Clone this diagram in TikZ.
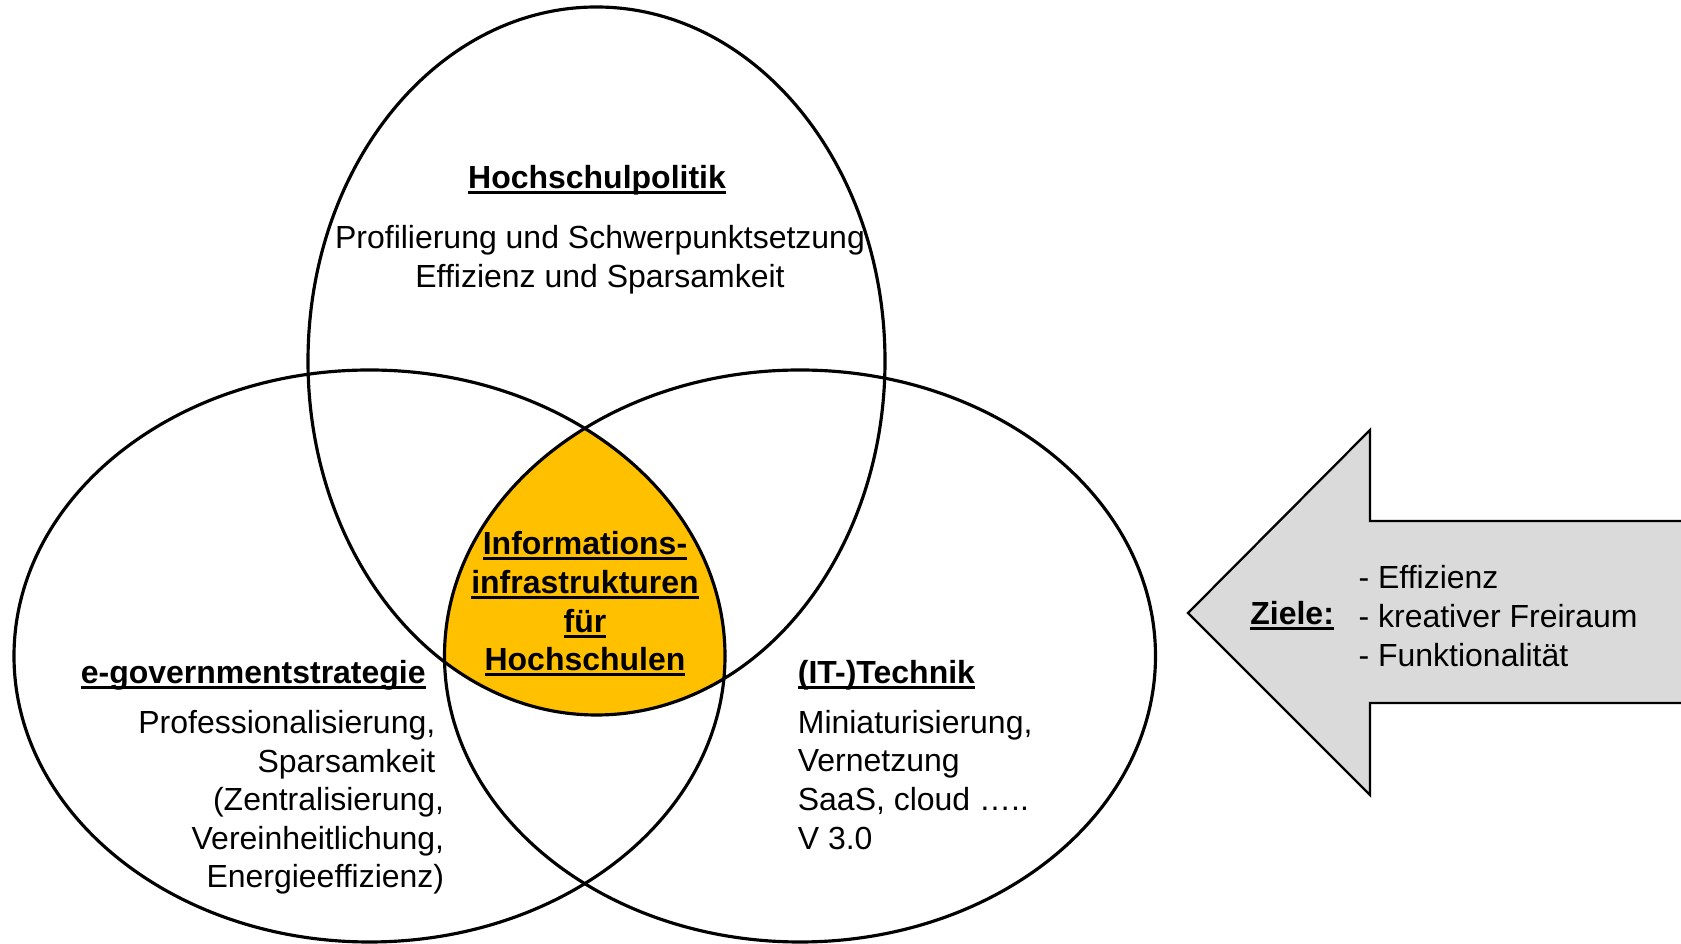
\documentclass[tikz,border=0pt]{standalone}
\usepackage{fontspec}
\setmainfont{Liberation Sans}
\usetikzlibrary{positioning}

\definecolor{venngelb}{HTML}{FFC000}
\definecolor{pfeilgrau}{HTML}{DADADA}

% unterstrichen, mit kraeftiger Linie
\newcommand{\undl}[1]{\setbox0\hbox{#1}\rlap{\rule[-0.18em]{\wd0}{0.1em}}\box0}

\begin{document}
\begin{tikzpicture}[
font=\fontsize{18.2}{22}\selectfont,
ring/.style={draw, line width=1.8pt},
pfeil/.style={draw, line width=1.3pt, line join=miter},
txt/.style={inner sep=0pt},
head/.style={inner sep=0pt, font=\fontsize{18.2}{22}\selectfont\bfseries}
]
\useasboundingbox (0,0) rectangle (33.62,18.88);

% --- Schnittmenge der drei Kreise ---
\begin{scope}
\clip (11.93,11.66) ellipse [x radius=5.77cm, y radius=7.08cm];
\clip (7.39,5.76) ellipse [x radius=7.11cm, y radius=5.72cm];
\fill[venngelb] (16.0,5.76) ellipse [x radius=7.11cm, y radius=5.72cm];
\end{scope}

% --- Kreise ---
\draw[ring] (11.93,11.66) ellipse [x radius=5.77cm, y radius=7.08cm];
\draw[ring] (7.39,5.76) ellipse [x radius=7.11cm, y radius=5.72cm];
\draw[ring] (16.0,5.76) ellipse [x radius=7.11cm, y radius=5.72cm];

% --- Pfeil ---
\fill[pfeilgrau] (33.9,8.46) -- (27.4,8.46) -- (27.4,10.28) -- (23.76,6.62)
  -- (27.4,2.98) -- (27.4,4.82) -- (33.9,4.82) -- cycle;
\draw[pfeil] (33.9,8.46) -- (27.4,8.46) -- (27.4,10.28) -- (23.76,6.62)
  -- (27.4,2.98) -- (27.4,4.82) -- (33.9,4.82);

% --- Hochschulpolitik ---
\node[head] (hptitel) at (11.94,15.28) {\undl{Hochschulpolitik}};
\node[txt, align=center, below=0.6cm of hptitel, xshift=0.06cm] (hptext)
  {Profilierung und Schwerpunktsetzung\\Effizienz und Sparsamkeit};

% --- e-governmentstrategie ---
\node[head, anchor=east] (egtitel) at (8.52,5.38) {\undl{e-governmentstrategie}};
\node[txt, align=right, anchor=north east] (egtext)
  at ([xshift=0.37cm, yshift=-0.39cm]egtitel.south east)
  {Professionalisierung,\hphantom{,}\\Sparsamkeit\hphantom{,}\\(Zentralisierung,\\Vereinheitlichung,\\Energieeffizienz)};

% --- (IT-)Technik ---
\node[head, anchor=west] (ittitel) at (15.95,5.38) {\undl{(IT-)Technik}};
\node[txt, align=left, below right=0.39cm and 0cm of ittitel.south west] (ittext)
  {Miniaturisierung,\\Vernetzung\\SaaS, cloud …..\\V 3.0};

% --- Mitte ---
\node[head, align=center] (mitte) at (11.70,6.80)
  {\undl{Informations-}\\\undl{infrastrukturen}\\\undl{für}\\\undl{Hochschulen}};

% --- Ziele ---
\node[head, anchor=west] (ziele) at (25.0,6.56) {\undl{Ziele:}};
\node[txt, align=left, right=0.48cm of ziele] (zielliste)
  {- Effizienz\\- kreativer Freiraum\\- Funktionalität};

\end{tikzpicture}
\end{document}
